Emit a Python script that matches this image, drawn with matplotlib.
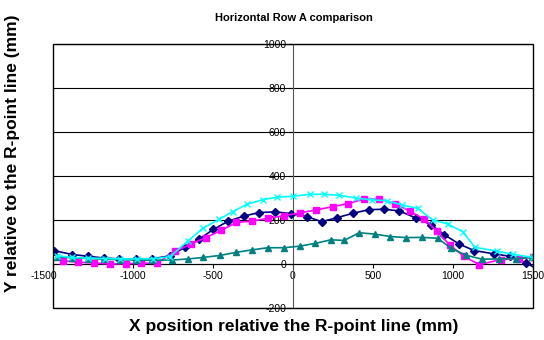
import matplotlib
matplotlib.use("Agg")
import matplotlib.pyplot as plt
import matplotlib.transforms as mtransforms
from matplotlib.patches import Rectangle

plt.rcParams['font.family'] = ['Liberation Sans', 'DejaVu Sans']

# data (x in mm, y in mm)
navy_x = [-1494, -1379, -1279, -1181, -1085, -983, -881, -769, -675, -585, -498, -404, -306, -210, -110, -10,
          90, 179, 277, 377, 475, 571, 665, 769, 862, 946, 1040, 1133, 1258, 1356, 1454, 1560]
navy_y = [61, 43, 35, 27, 23, 23, 24, 37, 76, 114, 157, 195, 218, 234, 237, 229,
          215, 192, 211, 231, 247, 249, 241, 209, 179, 133, 90, 61, 46, 35, 5, -35]

magenta_x = [-1440, -1343, -1243, -1145, -1045, -948, -848, -735, -640, -545, -448, -354, -256, -156, -56, 44,
             144, 252, 346, 444, 540, 637, 731, 821, 898, 981, 1069, 1163, 1298, 1410, 1500]
magenta_y = [15, 8, 5, 0, 2, 3, 5, 58, 90, 120, 153, 189, 195, 208, 220, 232,
             246, 261, 275, 295, 295, 275, 240, 203, 150, 85, 35, -3, 20, 25, 30]

teal_x = [-1477, -1380, -1280, -1180, -1080, -980, -880, -754, -654, -560, -456, -356, -258, -158, -56, 42,
          140, 237, 320, 413, 510, 608, 708, 806, 904, 987, 1080, 1181, 1290, 1394, 1496]
teal_y = [33, 28, 25, 22, 20, 18, 17, 18, 23, 30, 39, 53, 64, 74, 74, 81,
          94, 110, 107, 142, 136, 125, 120, 121, 117, 72, 40, 22, 23, 24, 30]

cyan_x = [-1477, -1383, -1279, -1175, -1081, -977, -873, -770, -654, -565, -460, -377, -286, -190, -98, 2,
          106, 196, 290, 394, 492, 585, 683, 779, 873, 967, 1060, 1137, 1273, 1373, 1498]
cyan_y = [38, 30, 27, 25, 23, 23, 24, 33, 106, 162, 204, 238, 272, 292, 304, 308,
          317, 317, 312, 300, 291, 288, 268, 253, 200, 182, 147, 76, 59, 44, 30]

x_ticks = [-1500, -1000, -500, 0, 500, 1000, 1500]
y_ticks = [-200, 0, 200, 400, 600, 800, 1000]

fig = plt.figure(figsize=(5.44, 3.4), dpi=100)
ax = fig.add_axes([53 / 544, 1 - 308 / 340, 480 / 544, 264 / 340])
ax.set_xlim(-1500, 1500)
ax.set_ylim(-200, 1000)

# horizontal gridlines
for yv in y_ticks:
    ax.axhline(yv, color='black', lw=0.8, zorder=1)

ax.plot(navy_x, navy_y, color='#000080', marker='D', ms=3.8, lw=1.2, zorder=3)
ax.plot(magenta_x, magenta_y, color='#FF00FF', marker='s', ms=4.5, lw=1.2, zorder=4)
ax.plot(teal_x, teal_y, color='#008080', marker='^', ms=4.5, lw=1.2, zorder=5)
ax.plot(cyan_x, cyan_y, color='#00FFFF', marker='x', ms=5, mew=1, lw=1.2, zorder=6)

# axes crossing at zero, box frame around plot area
for s in ['top', 'right']:
    ax.spines[s].set_visible(False)
ax.spines['left'].set_position(('data', 0))
ax.spines['bottom'].set_position(('data', 0))
ax.spines['left'].set_color('#555555')
ax.spines['bottom'].set_color('black')
ax.add_patch(Rectangle((0, 0), 1, 1, transform=ax.transAxes, fill=False,
                       edgecolor='black', lw=1, clip_on=False, zorder=7))

ax.set_xticks(x_ticks)
ax.set_xticklabels([str(v) for v in x_ticks])
ax.set_yticks(y_ticks)
ax.set_yticklabels([str(v) for v in y_ticks])
ax.tick_params(axis='both', direction='out', length=3, width=0.8, labelsize=7.5, pad=2)

# first x label sits left of the frame corner like in the original
first = ax.get_xticklabels()[0]
first.set_horizontalalignment('right')
first.set_transform(first.get_transform() + mtransforms.ScaledTranslation(4 / 100, 0, fig.dpi_scale_trans))

fig.text(294 / 544, 1 - 18 / 340, 'Horizontal Row A comparison', ha='center', va='center',
         fontsize=8, fontweight='bold')
fig.text(294 / 544, 1 - 327 / 340, 'X position relative the R-point line (mm)', ha='center', va='center',
         fontsize=12.5, fontweight='bold')
fig.text(13 / 544, 1 - 153 / 340, 'Y relative to the R-point line (mm)', ha='center', va='center',
         rotation=90, fontsize=12.5, fontweight='bold')

fig.savefig('out.png', dpi=100)
